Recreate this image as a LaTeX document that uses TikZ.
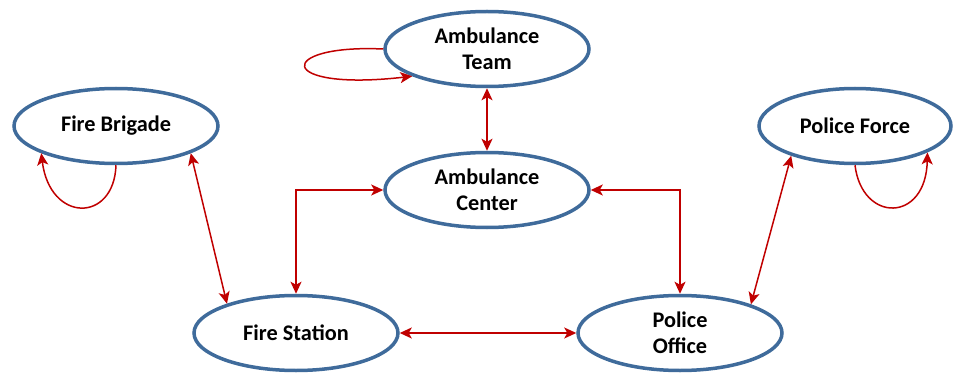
\documentclass[tikz,border=0pt]{standalone}
\usepackage{fontspec}
\setmainfont{Carlito}
\usetikzlibrary{shapes.geometric,arrows.meta}
\definecolor{rimblue}{HTML}{3F6B9B}
\definecolor{linkred}{HTML}{C00000}
\begin{document}
\begin{tikzpicture}[x=1pt,y=-1pt,
  agent/.style={ellipse,draw=rimblue,line width=3.5pt,fill=white,
    minimum width=204pt,minimum height=75pt,inner sep=0pt,align=center,
    font=\fontsize{22.3}{25.5}\selectfont\bfseries},
  tip/.style={Stealth[length=12pt,width=11pt,inset=3pt]},
  link/.style={draw=linkred,line width=1.5pt,{Stealth[length=12pt,width=11pt,inset=3pt]}-{Stealth[length=12pt,width=11pt,inset=3pt]}},
  selflink/.style={draw=linkred,line width=1.5pt,-{Stealth[length=12pt,width=11pt,inset=3pt]}}]
\useasboundingbox (0,0) rectangle (955,374);

\node[agent] (at) at (487,49) {Ambulance\\Team};
\node[agent] (ac) at (487,190) {Ambulance\\Center};
\node[agent] (fb) at (116,126) {Fire Brigade};
\node[agent,minimum width=192pt] (pf) at (855,126) {Police Force};
\node[agent] (fs) at (296,333) {Fire Station};
\node[agent] (po) at (680,333) {Police\\Office};

% links between agents
\draw[link] (at.south) -- (ac.north);
\draw[link] (ac.west) -| (fs.north);
\draw[link] (ac.east) -| (po.north);
\draw[link] (fs.east) -- (po.west);
\draw[link] (fb.340) -- (fs.157);
\draw[link] (pf.205) -- (po.22);

% self links
\draw[selflink] (at.west) .. controls (275,44) and (275,92) .. (at.200);
\draw[selflink] (fb.south) .. controls (114,223) and (50,223) .. (fb.200);
\draw[selflink] (pf.south) .. controls (862,223) and (926,223) .. (pf.340);
\end{tikzpicture}
\end{document}
